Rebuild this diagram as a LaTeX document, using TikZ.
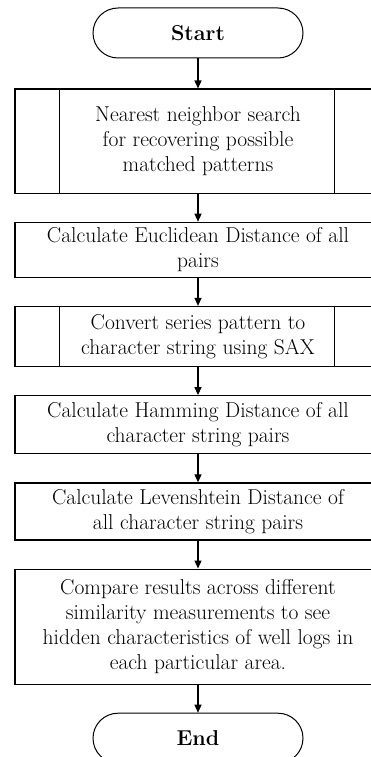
\documentclass[tikz,border=0pt]{standalone}
\usetikzlibrary{arrows.meta,positioning}

\newcommand{\flowfont}{\fontsize{21.5}{25}\selectfont}

\tikzset{
  terminal/.style={draw, line width=1pt, rounded corners=25pt,
    minimum width=210pt, minimum height=50pt, font=\flowfont\bfseries},
  procbox/.style={draw, line width=1.2pt, minimum width=366pt,
    inner sep=2pt, align=center},
  flow/.style={->, line width=1.3pt}
}

\begin{document}
\begin{tikzpicture}[x=1pt, y=1pt, >={Triangle[length=8pt, width=7pt]},
    font=\flowfont, node distance=28pt]
  \path[use as bounding box, clip] (0,0) rectangle (371,-757);

  \node[terminal] (start) at (198,-33) {Start};
  \node[procbox, minimum height=104pt, below=30pt of start] (search)
    {Nearest neighbor search\\for recovering possible\\matched patterns};
  \node[procbox, minimum height=55pt, below=of search] (euclid)
    {Calculate Euclidean Distance of all\\pairs};
  \node[procbox, minimum height=60pt, below=of euclid] (sax)
    {Convert series pattern to\\character string using SAX};
  \node[procbox, minimum height=58pt, below=of sax] (hamming)
    {Calculate Hamming Distance of all\\character string pairs};
  \node[procbox, minimum height=57pt, below=of hamming] (leven)
    {Calculate Levenshtein Distance of\\all character string pairs};
  \node[procbox, minimum height=115pt, below=of leven] (compare)
    {Compare results across different\\similarity measurements to see\\hidden characteristics of well logs in\\each particular area.};
  \node[terminal, below=of compare] (stop) {End};

  % side bars of the predefined process boxes
  \foreach \n in {search, sax} {
    \draw[line width=1.2pt] ([xshift=45pt]\n.north west) -- ([xshift=45pt]\n.south west);
    \draw[line width=1.2pt] ([xshift=-47pt]\n.north east) -- ([xshift=-47pt]\n.south east);
  }

  \draw[flow] (start) -- (search);
  \draw[flow] (search) -- (euclid);
  \draw[flow] (euclid) -- (sax);
  \draw[flow] (sax) -- (hamming);
  \draw[flow] (hamming) -- (leven);
  \draw[flow] (leven) -- (compare);
  \draw[flow] (compare) -- (stop);
\end{tikzpicture}
\end{document}
